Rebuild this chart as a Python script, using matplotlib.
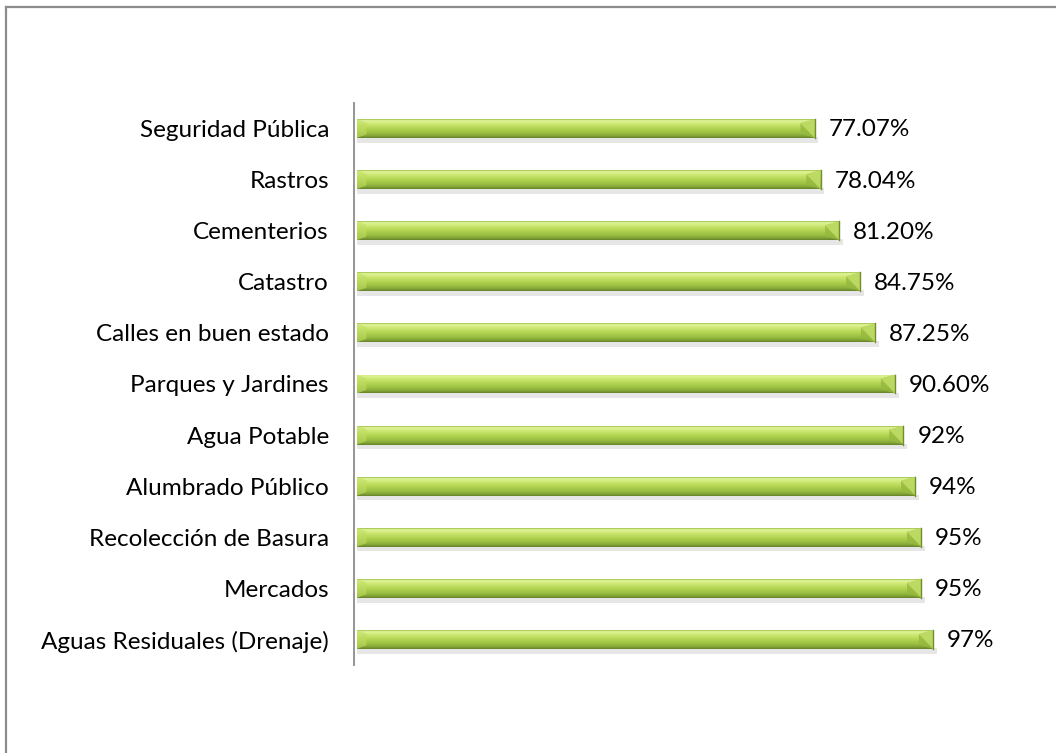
import matplotlib
matplotlib.use("Agg")
import matplotlib.pyplot as plt
import numpy as np
from matplotlib.colors import LinearSegmentedColormap
from matplotlib.patches import Polygon

categories = ["Seguridad Pública", "Rastros", "Cementerios", "Catastro",
              "Calles en buen estado", "Parques y Jardines", "Agua Potable",
              "Alumbrado Público", "Recolección de Basura", "Mercados",
              "Aguas Residuales (Drenaje)"]
values = [77.07, 78.04, 81.20, 84.75, 87.25, 90.60, 92, 94, 95, 95, 97]
value_labels = ["77.07%", "78.04%", "81.20%", "84.75%", "87.25%", "90.60%",
                "92%", "94%", "95%", "95%", "97%"]

W, H = 1056, 753
fig = plt.figure(figsize=(W / 100, H / 100), dpi=100)
fig.patch.set_facecolor("white")

# outer border (left and top visible)
fig.add_artist(plt.Line2D([5.5 / W, 5.5 / W], [0, 1 - 6.5 / H], color="#8c8c8c", lw=1.6))
fig.add_artist(plt.Line2D([5.5 / W, 1], [1 - 6.5 / H, 1 - 6.5 / H], color="#8c8c8c", lw=1.6))

left_px, top_px, bot_px = 354, 103, 665
px_per = 5.94
xmin = -0.5
xmax = 110
ax = fig.add_axes([left_px / W, (H - bot_px) / H,
                   (xmax - xmin) * px_per / W, (bot_px - top_px) / H])
ax.set_xlim(xmin, xmax)
ax.set_ylim(len(categories) - 0.5, -0.5)

font = "Lato"
fs = 17.5

bar_h = 0.37
y = np.arange(len(categories))
bars = ax.barh(y, values, height=bar_h, color="#a8cc4a", edgecolor="none", zorder=3)

cmap = LinearSegmentedColormap.from_list("g", [
    (0.0, "#9abb44"), (0.07, "#e2f59c"), (0.25, "#cde872"),
    (0.5, "#b2d452"), (0.72, "#9cc043"), (0.88, "#86a737"), (1.0, "#66832a")])
grad = np.linspace(0, 1, 64).reshape(-1, 1)

for yi, v, b in zip(y, values, bars):
    # shadow
    ax.barh(yi + bar_h * 0.6, v + 0.6, height=bar_h * 0.3, color="#dcdcdc",
            alpha=0.7, edgecolor="none", zorder=2)
    im = ax.imshow(grad, cmap=cmap, aspect="auto",
                   extent=[0, v, yi + bar_h / 2, yi - bar_h / 2], zorder=4,
                   interpolation="bilinear")
    im.set_clip_path(b)
    # right bevel end
    dx = 2.4
    ax.add_patch(Polygon([[v - dx, yi - bar_h / 2 + 0.08], [v, yi - bar_h / 2],
                          [v, yi + bar_h / 2], [v - dx, yi + bar_h / 2 - 0.08]],
                         closed=True, facecolor="#95b83e", edgecolor="none",
                         alpha=0.8, zorder=5))
    ax.add_patch(Polygon([[v - dx, yi - bar_h / 2 + 0.08], [v, yi - bar_h / 2],
                          [v, yi + bar_h / 2]],
                         closed=True, facecolor="#c4e06a", edgecolor="none",
                         alpha=0.8, zorder=6))
    ax.plot([v, v], [yi - bar_h / 2, yi + bar_h / 2], color="#6f8e2c", lw=1.0, zorder=7)
    # left bevel
    ax.add_patch(Polygon([[0, yi - bar_h / 2], [1.6, yi - bar_h / 2 + 0.07],
                          [1.6, yi + bar_h / 2 - 0.07], [0, yi + bar_h / 2]],
                         closed=True, facecolor="#c0de62", edgecolor="none",
                         alpha=0.6, zorder=5))
    ax.annotate(value_labels[yi], (v, yi), xytext=(10, -1), textcoords="offset points",
                ha="left", va="center", fontsize=fs, family=font, color="#000000")

ax.set_yticks(y)
ax.set_yticklabels(categories, fontsize=fs, family=font)
ax.tick_params(axis="y", length=0, pad=18)
ax.set_xticks([])
for s in ["top", "right", "bottom"]:
    ax.spines[s].set_visible(False)
ax.spines["left"].set_color("#8c8c8c")
ax.spines["left"].set_linewidth(1.3)
ax.spines["left"].set_zorder(8)
ax.patch.set_alpha(0)

fig.savefig("out.png", dpi=100, facecolor="white")
